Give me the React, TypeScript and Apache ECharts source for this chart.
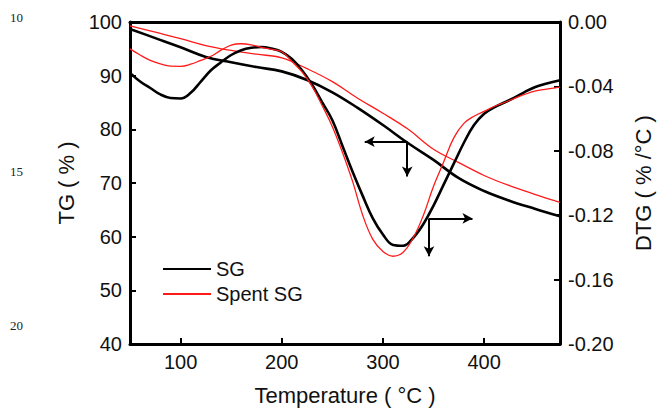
import React, { useEffect, useRef } from "react";
import * as echarts from "echarts";

// Temperature grid (°C) for the TG curves
const tempTG = [50, 75, 100, 125, 150, 175, 200, 225, 250, 275, 300, 325, 350, 375, 400, 425, 450, 475];
const tgSG = [98.7, 97.0, 95.3, 93.5, 92.5, 91.6, 90.8, 89.2, 86.9, 84.0, 80.8, 77.4, 74.3, 70.9, 68.5, 66.7, 65.2, 63.8];
const tgSpent = [99.3, 98.1, 96.9, 95.6, 94.7, 94.0, 93.3, 91.3, 88.9, 85.8, 83.0, 80.0, 76.3, 73.8, 71.4, 69.5, 67.9, 66.4];

// Temperature grid (°C) for the DTG curves
const tempDTG = [50, 60, 70, 80, 90, 100, 110, 120, 130, 140, 150, 160, 170, 180, 190, 200, 210, 220, 230, 240, 250, 260, 270, 280, 290, 300, 310, 320, 330, 340, 350, 360, 370, 380, 390, 400, 410, 420, 430, 440, 450, 460, 475];
const dtgSG = [-0.0316, -0.037, -0.041, -0.045, -0.0472, -0.0475, -0.044, -0.037, -0.030, -0.025, -0.0205, -0.0175, -0.016, -0.0155, -0.0165, -0.0185, -0.023, -0.030, -0.039, -0.050, -0.061, -0.077, -0.093, -0.108, -0.122, -0.132, -0.1385, -0.139, -0.134, -0.1255, -0.114, -0.101, -0.088, -0.075, -0.064, -0.057, -0.053, -0.050, -0.047, -0.0435, -0.0405, -0.0385, -0.0362];
const dtgSpent = [-0.0167, -0.0205, -0.0238, -0.026, -0.0274, -0.0275, -0.0262, -0.0238, -0.0213, -0.0175, -0.0143, -0.0135, -0.0142, -0.0158, -0.017, -0.0185, -0.0245, -0.031, -0.040, -0.052, -0.065, -0.081, -0.099, -0.120, -0.135, -0.1425, -0.1455, -0.143, -0.134, -0.120, -0.102, -0.087, -0.072, -0.063, -0.0585, -0.0555, -0.0525, -0.050, -0.0475, -0.045, -0.043, -0.0418, -0.0404];

const xTicks = [100, 200, 300, 400];
const seriesNames = ["SG", "Spent SG"];
const lineNumbers = ["10", "15", "20"];

// Annotation arrows (data coordinates)
const arrowTGCorner = [324, 77.7];
const arrowTGLeftTip = 282;
const arrowTGDownTip = 71.2;
const arrowDTGCorner = [345.5, -0.122];
const arrowDTGRightTip = 388.5;
const arrowDTGDownTip = -0.1455;

const FONT = "Liberation Sans, Arial, sans-serif";
const TXT = "#111";

function zip(xs: number[], ys: number[]) {
  return xs.map((x, i) => [x, ys[i]]);
}

export default function App() {
  const ref = useRef<HTMLDivElement>(null);
  useEffect(() => {
    if (!ref.current) return;
    const chart = echarts.init(ref.current, null, { renderer: "svg" });
    const arrowStyle = {
      silent: true,
      symbol: ["none", "arrow"],
      symbolSize: [8, 10],
      lineStyle: { color: "#000", width: 2, type: "solid" },
      label: { show: false },
      emphasis: { disabled: true },
    };
    const axisLine = { show: true, onZero: false, lineStyle: { color: "#000", width: 3 } };
    const tick = { show: true, inside: true, length: 6, lineStyle: { color: "#000", width: 2 } };
    const label = { color: TXT, fontSize: 20, fontFamily: FONT, margin: 8 };
    chart.setOption({
      animation: false,
      backgroundColor: "#fff",
      grid: { left: 130, right: 98, top: 22, bottom: 66, containLabel: false },
      legend: {
        data: seriesNames,
        orient: "vertical",
        left: 157,
        top: 254,
        itemWidth: 48,
        itemHeight: 20,
        itemGap: 5,
        itemStyle: { opacity: 0 },
        textStyle: { color: TXT, fontSize: 20, fontFamily: FONT },
      },
      graphic: lineNumbers.map((t, i) => ({
        type: "text",
        left: 10,
        top: 11 + i * 154,
        style: { text: t, fill: "#222", font: "13px Liberation Serif, serif" },
      })),
      xAxis: [
        {
          type: "value",
          position: "bottom",
          min: 50,
          max: 475,
          axisLine,
          axisTick: { ...tick, customValues: xTicks },
          axisLabel: { ...label, customValues: xTicks },
          splitLine: { show: false },
          name: "Temperature ( °C )",
          nameLocation: "middle",
          nameGap: 40,
          nameTextStyle: { color: TXT, fontSize: 22, fontFamily: FONT },
        },
        {
          type: "value",
          position: "top",
          min: 50,
          max: 475,
          axisLine,
          axisTick: { show: false },
          axisLabel: { show: false },
          splitLine: { show: false },
        },
      ],
      yAxis: [
        {
          type: "value",
          position: "left",
          min: 40,
          max: 100,
          interval: 10,
          axisLine,
          axisTick: tick,
          axisLabel: label,
          splitLine: { show: false },
          name: "TG ( % )",
          nameLocation: "middle",
          nameRotate: 90,
          nameGap: 52,
          nameTextStyle: { color: TXT, fontSize: 22, fontFamily: FONT },
        },
        {
          type: "value",
          position: "right",
          min: -0.2,
          max: 0,
          interval: 0.04,
          axisLine,
          axisTick: tick,
          axisLabel: { ...label, formatter: (v: number) => v.toFixed(2) },
          splitLine: { show: false },
          name: "DTG ( % /°C )",
          nameLocation: "middle",
          nameRotate: 90,
          nameGap: 72,
          nameTextStyle: { color: TXT, fontSize: 22, fontFamily: FONT },
        },
      ],
      series: [
        {
          name: seriesNames[0],
          type: "line",
          xAxisIndex: 0,
          yAxisIndex: 0,
          data: zip(tempTG, tgSG),
          smooth: 0.4,
          symbol: "none",
          lineStyle: { color: "#000", width: 2.6 },
          itemStyle: { color: "#000" },
          markLine: {
            ...arrowStyle,
            data: [
              [{ coord: arrowTGCorner }, { coord: [arrowTGLeftTip, arrowTGCorner[1]] }],
              [{ coord: arrowTGCorner }, { coord: [arrowTGCorner[0], arrowTGDownTip] }],
            ],
          },
        },
        {
          name: seriesNames[1],
          type: "line",
          xAxisIndex: 0,
          yAxisIndex: 0,
          data: zip(tempTG, tgSpent),
          smooth: 0.4,
          symbol: "none",
          lineStyle: { color: "#ff1a1a", width: 1.3 },
          itemStyle: { color: "#ff1a1a" },
        },
        {
          name: seriesNames[0],
          type: "line",
          xAxisIndex: 0,
          yAxisIndex: 1,
          data: zip(tempDTG, dtgSG),
          smooth: 0.4,
          symbol: "none",
          lineStyle: { color: "#000", width: 2.6 },
          itemStyle: { color: "#000" },
          markLine: {
            ...arrowStyle,
            data: [
              [{ coord: arrowDTGCorner }, { coord: [arrowDTGRightTip, arrowDTGCorner[1]] }],
              [{ coord: arrowDTGCorner }, { coord: [arrowDTGCorner[0], arrowDTGDownTip] }],
            ],
          },
        },
        {
          name: seriesNames[1],
          type: "line",
          xAxisIndex: 0,
          yAxisIndex: 1,
          data: zip(tempDTG, dtgSpent),
          smooth: 0.4,
          symbol: "none",
          lineStyle: { color: "#ff1a1a", width: 1.3 },
          itemStyle: { color: "#ff1a1a" },
        },
      ],
    });
    return () => chart.dispose();
  }, []);
  return (
    <div
      ref={ref}
      style={{ position: "fixed", left: 0, top: 0, width: 662, height: 411, background: "#fff" }}
    />
  );
}
